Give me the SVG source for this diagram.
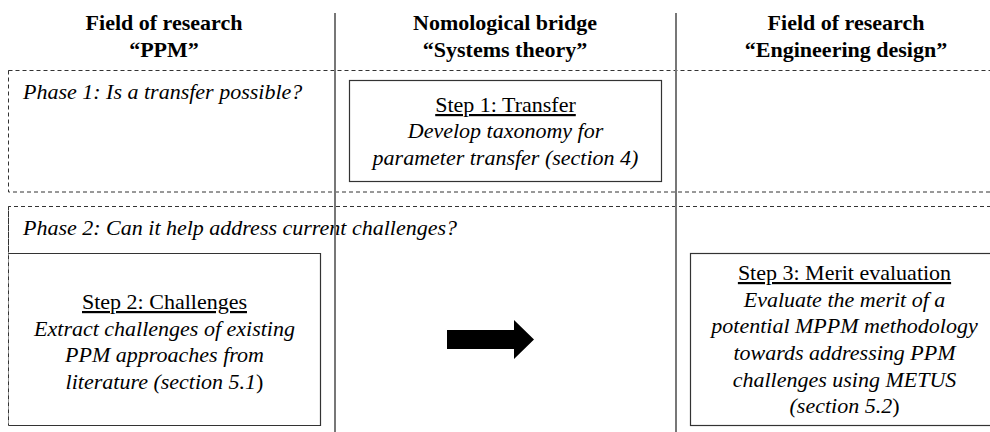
<svg xmlns="http://www.w3.org/2000/svg" width="990" height="432" viewBox="0 0 990 432">
<style>
.hd{font-size:22px;font-weight:bold;fill:#000;text-anchor:middle}
.ph{font-size:22px;font-style:italic;fill:#000}
.t{font-size:22px;fill:#000;text-anchor:middle}
.u{text-decoration:underline}
.i{font-style:italic}
.n{font-style:normal}
.dash{fill:none;stroke:#333;stroke-width:1;stroke-dasharray:4 3}
.col{stroke:#777;stroke-width:2}
.box{fill:#fff;stroke:#333;stroke-width:1.2}
</style>
<rect width="990" height="432" fill="#fff"/>
<g font-family="Liberation Serif, Times New Roman, serif">
<g id="phase1">
<rect class="dash" x="8.5" y="70.5" width="990" height="121.5"/>
<text class="ph" x="23" y="99" font-family="Liberation Serif">Phase 1: Is a transfer possible?</text>
</g>
<g id="phase2">
<path class="dash" d="M998,206.5 H8.5 V425.5"/>
<text class="ph" x="23" y="235" font-family="Liberation Serif">Phase 2: Can it help address current challenges?</text>
</g>
<g id="columns">
<line class="col" x1="335" y1="13" x2="335" y2="432"/>
<line class="col" x1="676" y1="13" x2="676" y2="432"/>
</g>
<g id="headers" font-family="Liberation Serif">
<text class="hd" x="164" y="30">Field of research</text>
<text class="hd" x="164" y="57">“PPM”</text>
<text class="hd" x="505" y="30">Nomological bridge</text>
<text class="hd" x="505" y="57">“Systems theory”</text>
<text class="hd" x="846" y="30">Field of research</text>
<text class="hd" x="846" y="57">“Engineering design”</text>
</g>
<g id="step1" font-family="Liberation Serif">
<rect class="box" x="349.5" y="80.5" width="312" height="101"/>
<text class="t u" x="505.5" y="112">Step 1: Transfer</text>
<text class="t i" x="505.5" y="138">Develop taxonomy for</text>
<text class="t i" x="505.5" y="165">parameter transfer (section 4)</text>
</g>
<g id="step2" font-family="Liberation Serif">
<rect x="9" y="253.5" width="311.5" height="172" fill="#fff"/>
<path class="box" fill="none" d="M8.5,253.5 H320.5 V425.5 H8.5"/>
<line class="dash" x1="8.5" y1="206.5" x2="8.5" y2="425.5"/>
<text class="t u" x="164.5" y="309">Step 2: Challenges</text>
<text class="t i" x="164.5" y="336">Extract challenges of existing</text>
<text class="t i" x="164.5" y="362">PPM approaches from</text>
<text class="t i" x="164.5" y="389">literature (section 5.1<tspan class="n">)</tspan></text>
</g>
<g id="step3" font-family="Liberation Serif">
<rect class="box" x="690.5" y="253.5" width="310" height="172"/>
<text class="t u" x="844.5" y="280">Step 3: Merit evaluation</text>
<text class="t i" x="844.5" y="307">Evaluate the merit of a</text>
<text class="t i" x="844.5" y="333">potential MPPM methodology</text>
<text class="t i" x="844.5" y="360">towards addressing PPM</text>
<text class="t i" x="844.5" y="387">challenges using METUS</text>
<text class="t i" x="844.5" y="413">(section 5.2<tspan class="n">)</tspan></text>
</g>
</g>
<g id="connectors">
<polygon points="447,330 514,330 514,320 534,339.5 514,359 514,349 447,349" fill="#000"/>
</g>
</svg>
